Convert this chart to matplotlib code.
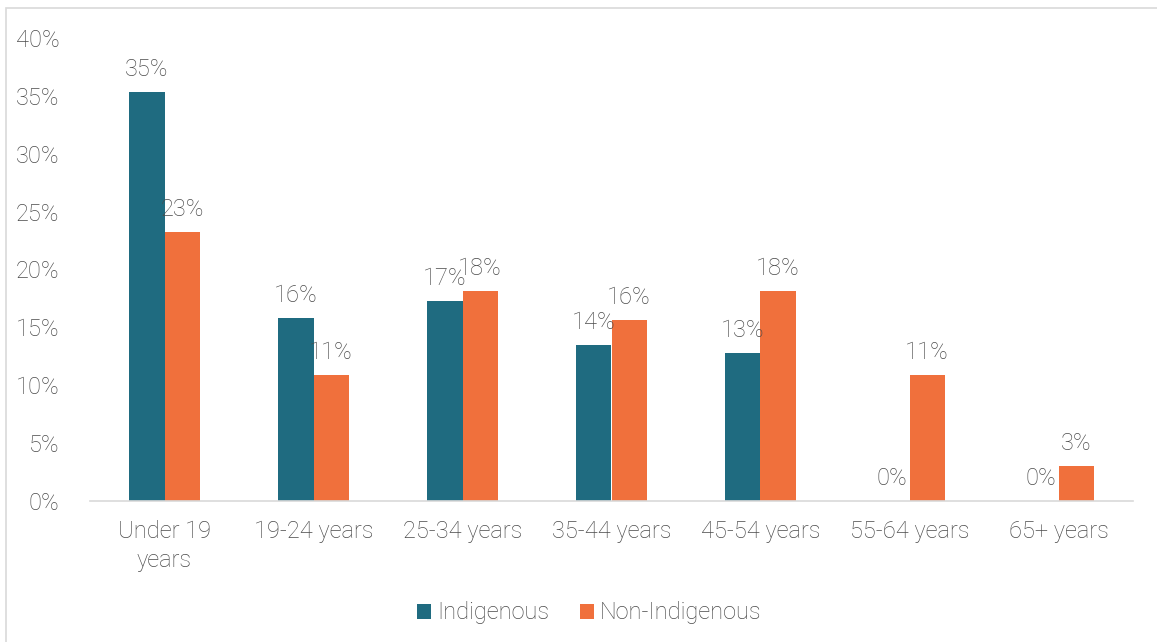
import matplotlib.pyplot as plt
import matplotlib.ticker as mticker
import numpy as np
from matplotlib.patches import Rectangle

# --- DATA ---
categories = ['Under 19\nyears', '19-24 years', '25-34 years', '35-44 years',
              '45-54 years', '55-64 years', '65+ years']
indigenous = [35.3, 15.8, 17.3, 13.5, 12.8, 0.0, 0.0]
non_indigenous = [23.2, 10.9, 18.1, 15.6, 18.1, 10.9, 3.0]

TEAL = '#1f6b80'
ORANGE = '#f0703c'
TEXT = '#4a4a4a'
FS = 17

plt.rcParams['font.family'] = ['Roboto', 'DejaVu Sans']
plt.rcParams['font.weight'] = 'light'

fig = plt.figure(figsize=(11.57, 6.42), dpi=100)
ax = fig.add_axes([90 / 1157, 1 - 501 / 642, (1133 - 90) / 1157, (501 - 38) / 642])

x = np.arange(len(categories))
w = 0.235
b1 = ax.bar(x - w / 2, indigenous, w, color=TEAL, label='Indigenous')
b2 = ax.bar(x + w / 2, non_indigenous, w, color=ORANGE, label='Non-Indigenous')

for bars in (b1, b2):
    ax.bar_label(bars, labels=[f'{v:.0f}%' for v in bars.datavalues],
                 padding=8, fontsize=FS, color=TEXT, fontweight='light')

ax.set_xlim(-0.5, len(categories) - 0.5)
ax.set_ylim(0, 40)
ax.yaxis.set_major_locator(mticker.MultipleLocator(5))
ax.yaxis.set_major_formatter(mticker.FuncFormatter(lambda v, p: f'{v:.0f}%'))
ax.set_xticks(x)
ax.set_xticklabels(categories, linespacing=1.3)
ax.tick_params(axis='both', length=0, labelsize=FS, labelcolor=TEXT)
ax.tick_params(axis='y', pad=22)
ax.tick_params(axis='x', pad=14)

for s in ('top', 'right', 'left'):
    ax.spines[s].set_visible(False)
ax.spines['bottom'].set_color('#d9d9d9')
ax.spines['bottom'].set_linewidth(1.2)

fig.legend(loc='center', bbox_to_anchor=(589 / 1157, 1 - 613 / 642), ncol=2,
           frameon=False, fontsize=FS, labelcolor=TEXT, handlelength=0.6,
           handleheight=0.6, handletextpad=0.25, columnspacing=1.3)

# light border around the chart area
fig.patches.append(Rectangle((6 / 1157, -0.1), 1.2, 1 - 8 / 642 + 0.1,
                             transform=fig.transFigure, fill=False,
                             edgecolor='#d9d9d9', linewidth=1.2))

fig.savefig('out.png', dpi=100)
